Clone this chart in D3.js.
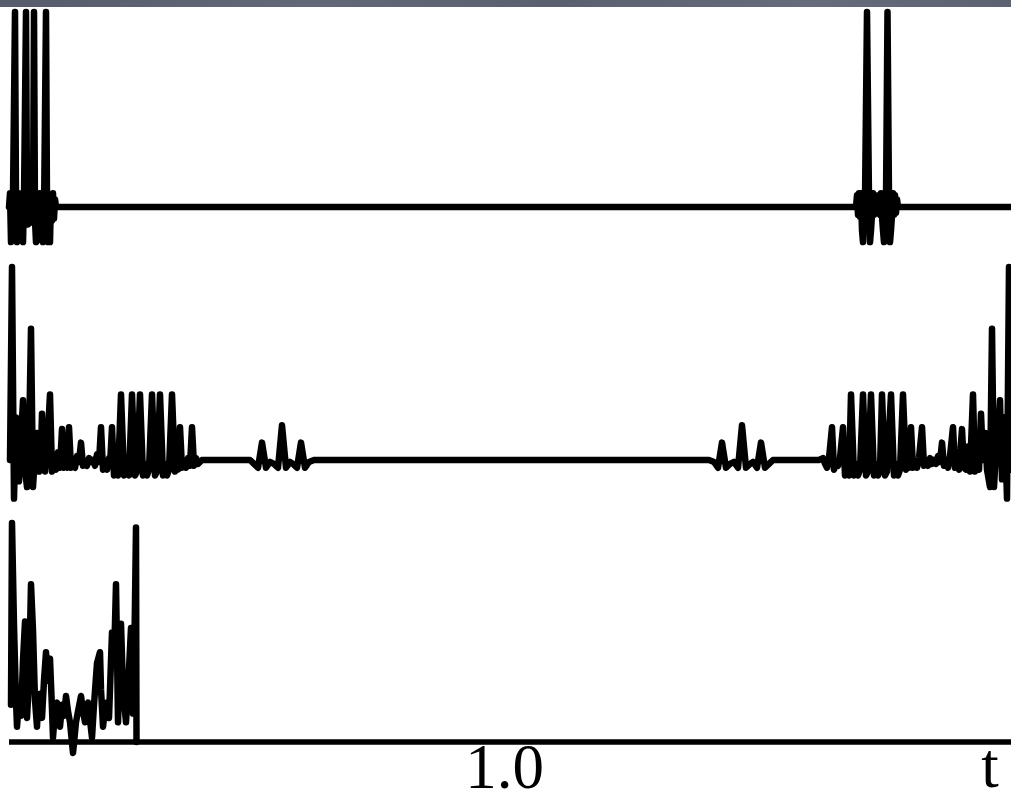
<!DOCTYPE html>
<html>
<head>
<meta charset="utf-8">
<script src="https://cdn.jsdelivr.net/npm/d3@7/dist/d3.min.js"></script>
<style>
  html, body { margin: 0; padding: 0; background: #fff; overflow: hidden; }
  svg { display: block; }
</style>
</head>
<body>
<svg id="chart" width="1011" height="790"></svg>
<script>
// Time samples [t, amplitude] for the three traces (amplitude normalised so the tallest spike = 1)
const topSignal = [
  [-0.002, 0], [0.000, 0.07], [0.002, -0.18], [0.004, -0.08], [0.006, 0.06], [0.010, 1.0],
  [0.012, 0.04], [0.014, -0.18], [0.016, -0.07], [0.018, 0.07], [0.020, -0.08], [0.022, 0.06],
  [0.024, -0.09], [0.026, -0.18], [0.028, 0.04], [0.032, 1.0], [0.034, 0.01], [0.036, -0.09],
  [0.038, -0.06], [0.040, 0.07], [0.042, -0.08], [0.044, 0.06], [0.046, -0.04], [0.048, 1.0],
  [0.050, -0.07], [0.052, -0.18], [0.054, -0.12], [0.056, 0.06], [0.058, -0.08], [0.060, 0.07],
  [0.062, -0.17], [0.064, 0.04], [0.066, -0.18], [0.068, -0.04], [0.072, 1.0], [0.074, 0.01],
  [0.076, -0.18], [0.078, -0.09], [0.080, -0.18], [0.082, 0.06], [0.084, -0.07], [0.086, 0.07],
  [0.088, -0.06], [0.090, 0.04], [0.092, 0],
  [1.692, 0], [1.694, 0.06], [1.696, -0.04], [1.698, 0.07], [1.700, -0.05], [1.702, 0.07],
  [1.704, -0.12], [1.706, -0.18], [1.708, -0.04], [1.710, 0.04], [1.714, 1.0], [1.718, 0.04],
  [1.720, -0.18], [1.722, -0.12], [1.724, -0.04], [1.726, 0.07], [1.728, -0.04], [1.730, 0.06],
  [1.732, -0.03], [1.734, 0.04], [1.736, 0],
  [1.738, 0.06], [1.740, -0.04], [1.742, 0.07], [1.744, -0.05], [1.746, -0.12], [1.748, -0.18],
  [1.750, -0.04], [1.752, 0.04], [1.755, 1.0], [1.758, 0.04], [1.760, -0.18], [1.762, -0.12],
  [1.764, -0.04], [1.766, 0.07], [1.768, -0.04], [1.770, 0.06], [1.772, -0.03], [1.774, 0.04],
  [1.776, 0],
  [2.002, 0]
];

const midSignal = [
  [0.000, 0], [0.004, 1.00], [0.008, -0.20], [0.012, 0.22], [0.014, 0.10], [0.016, 0.18],
  [0.018, -0.11], [0.022, 0.10], [0.026, 0.31], [0.030, -0.05], [0.034, -0.14], [0.038, 0.10],
  [0.042, 0.68], [0.046, -0.14], [0.050, 0.03], [0.054, 0.14], [0.058, -0.06], [0.062, 0.05],
  [0.064, 0.24], [0.068, -0.03], [0.070, -0.06], [0.074, 0.05], [0.080, 0.34], [0.084, -0.06],
  [0.088, -0.01], [0.092, -0.05], [0.096, 0.04], [0.100, -0.04], [0.104, 0.16], [0.108, -0.04],
  [0.112, -0.01], [0.114, -0.04], [0.118, 0.17], [0.122, -0.04], [0.126, -0.03], [0.130, -0.04],
  [0.134, 0.02], [0.138, -0.01], [0.142, 0.09], [0.146, -0.03], [0.150, -0.01], [0.154, -0.03],
  [0.158, 0.01], [0.162, -0.01], [0.166, 0], [0.170, -0.03], [0.174, 0.03], [0.178, -0.01],
  [0.182, 0.17], [0.186, -0.05], [0.190, -0.01], [0.194, -0.05], [0.198, 0.01], [0.200, -0.03],
  [0.204, 0.17], [0.208, -0.08], [0.212, -0.02], [0.216, -0.08], [0.222, 0.34], [0.228, -0.08],
  [0.232, -0.02], [0.238, -0.08], [0.244, 0.34], [0.250, -0.08], [0.254, -0.06], [0.260, 0.34],
  [0.266, -0.08], [0.270, -0.02], [0.274, -0.08], [0.278, -0.05], [0.284, 0.34], [0.290, -0.08],
  [0.294, -0.06], [0.300, 0.34], [0.306, -0.08], [0.310, -0.02], [0.314, -0.08], [0.318, -0.05],
  [0.324, 0.34], [0.330, -0.06], [0.334, -0.01], [0.336, -0.05], [0.340, 0.17], [0.344, -0.04],
  [0.348, -0.01], [0.352, -0.04], [0.356, 0.01], [0.360, -0.03], [0.364, 0.17], [0.368, -0.03],
  [0.372, 0.01], [0.376, -0.02], [0.384, 0],
  [0.480, 0], [0.488, -0.02], [0.496, -0.04], [0.504, 0.09], [0.512, -0.04], [0.520, -0.01],
  [0.528, -0.02], [0.536, -0.04], [0.544, 0.18], [0.552, -0.04], [0.560, -0.01], [0.566, -0.02],
  [0.574, -0.04], [0.582, 0.09], [0.590, -0.04], [0.598, -0.01], [0.608, 0],
  [1.398, 0], [1.408, -0.01], [1.416, -0.04], [1.424, 0.09], [1.432, -0.04], [1.440, -0.02],
  [1.448, -0.01], [1.456, -0.04], [1.464, 0.18], [1.472, -0.04], [1.480, -0.02], [1.486, -0.01],
  [1.494, -0.04], [1.502, 0.09], [1.510, -0.04], [1.518, -0.02], [1.526, 0],
  [1.618, 0], [1.626, 0.01], [1.630, -0.02], [1.634, -0.04], [1.638, 0.01], [1.644, 0.17],
  [1.648, -0.05], [1.652, -0.01], [1.656, -0.03], [1.660, 0.01], [1.666, 0.17], [1.670, -0.08],
  [1.674, -0.02], [1.678, -0.08], [1.682, 0.34], [1.688, -0.08], [1.692, -0.02], [1.696, -0.08],
  [1.700, -0.05], [1.706, 0.34], [1.712, -0.08], [1.716, -0.06], [1.722, 0.34], [1.728, -0.08],
  [1.732, -0.02], [1.736, -0.08], [1.740, -0.05], [1.744, 0.34], [1.750, -0.08], [1.754, -0.06],
  [1.762, 0.34], [1.768, -0.08], [1.772, -0.02], [1.776, -0.08], [1.780, -0.05], [1.786, 0.34],
  [1.792, -0.05], [1.796, -0.01], [1.798, -0.04], [1.802, 0.17], [1.806, -0.04], [1.810, -0.01],
  [1.814, -0.04], [1.818, 0.01], [1.824, 0.17], [1.828, -0.03], [1.832, 0], [1.836, -0.03],
  [1.840, 0.01], [1.844, -0.02], [1.848, 0], [1.852, -0.02], [1.856, 0.02], [1.860, -0.01],
  [1.864, 0.09], [1.868, -0.03], [1.872, -0.01], [1.876, -0.04], [1.880, 0.02], [1.886, 0.17],
  [1.890, -0.04], [1.894, -0.01], [1.898, -0.05], [1.904, 0.16], [1.908, -0.04], [1.912, -0.05],
  [1.916, 0.07], [1.920, -0.06], [1.926, 0.34], [1.930, -0.06], [1.934, -0.03], [1.938, -0.05],
  [1.942, 0.24], [1.946, 0], [1.950, 0.14], [1.954, -0.05], [1.960, -0.14], [1.964, 0.68],
  [1.968, -0.14], [1.972, 0.05], [1.976, 0.10], [1.980, 0.31], [1.984, -0.10], [1.988, 0.22],
  [1.990, 0.16], [1.994, -0.20], [1.998, 1.00], [2.002, -0.05]
];

const lowSignal = [
  [0.002, 0.17], [0.004, 1.00], [0.008, 0.53], [0.012, 0.19], [0.014, 0.07], [0.018, 0.19],
  [0.020, 0.24], [0.022, 0.12], [0.026, 0.37], [0.030, 0.55], [0.032, 0.24], [0.034, 0.11],
  [0.038, 0.28], [0.042, 0.72], [0.046, 0.51], [0.050, 0.19], [0.054, 0.07], [0.056, 0.17],
  [0.060, 0.22], [0.062, 0.12], [0.064, 0.11], [0.068, 0.28], [0.072, 0.41], [0.076, 0.28],
  [0.080, 0.38], [0.084, 0.15], [0.086, 0.02], [0.090, 0.14], [0.094, 0.18], [0.098, 0.10],
  [0.100, 0.07], [0.104, 0.17], [0.108, 0.12], [0.112, 0.21], [0.116, 0.14], [0.120, 0.09],
  [0.126, -0.05], [0.132, 0.09], [0.136, 0.14], [0.142, 0.21], [0.146, 0.14], [0.150, 0.09],
  [0.154, 0.17], [0.156, 0.18], [0.160, 0.10], [0.164, 0.02], [0.168, 0.17], [0.174, 0.36],
  [0.180, 0.41], [0.182, 0.24], [0.186, 0.07], [0.190, 0.15], [0.194, 0.18], [0.196, 0.11],
  [0.198, 0.11], [0.202, 0.37], [0.204, 0.50], [0.208, 0.37], [0.212, 0.72], [0.214, 0.42],
  [0.216, 0.09], [0.220, 0.37], [0.222, 0.54], [0.226, 0.24], [0.232, 0.09], [0.236, 0.24],
  [0.242, 0.52], [0.244, 0.28], [0.246, 0.13], [0.249, 0.47], [0.252, 0.98], [0.253, 0]
];

const tickValues = [1.0];
const tickLabels = ["1.0"];
const axisTitle = "t";

const width = 1011, height = 790;
const svg = d3.select("#chart");

// title bar strip along the top edge
const grad = svg.append("defs").append("linearGradient").attr("id", "strip");
[["0%", "#565c6b"], ["30%", "#626877"], ["55%", "#5a6070"], ["80%", "#666c7b"], ["100%", "#5c6272"]]
  .forEach(([o, c]) => grad.append("stop").attr("offset", o).attr("stop-color", c));
svg.append("rect").attr("x", 0).attr("y", 0).attr("width", width).attr("height", 7)
  .attr("fill", "url(#strip)");

const x = d3.scaleLinear().domain([0, 2]).range([10, 1010]);

const panels = [
  { data: topSignal, y: d3.scaleLinear().domain([0, 1]).range([207, 12]) },
  { data: midSignal, y: d3.scaleLinear().domain([0, 1]).range([460, 267]) },
  { data: lowSignal, y: d3.scaleLinear().domain([0, 1]).range([742, 523]) }
];

const yLow = panels[2].y;
const serif = "'Liberation Serif', 'DejaVu Serif', serif";

// time axis under the lowest trace
const axis = d3.axisBottom(x)
  .tickValues(tickValues)
  .tickFormat((d, i) => tickLabels[i])
  .tickSize(0)
  .tickSizeOuter(0)
  .tickPadding(1);

const gAxis = svg.append("g").attr("transform", `translate(0,${yLow(0)})`).call(axis);
gAxis.select(".domain").remove();
gAxis.selectAll(".tick text")
  .attr("font-family", serif)
  .attr("font-size", 63)
  .attr("fill", "#000")
  .attr("dx", "-6");

svg.append("line")
  .attr("x1", x(0) - 1).attr("x2", width)
  .attr("y1", yLow(0)).attr("y2", yLow(0))
  .attr("stroke", "#000").attr("stroke-width", 5.5);

svg.append("text")
  .attr("x", x(1.96)).attr("y", yLow(0) + 45)
  .attr("text-anchor", "middle")
  .attr("font-family", serif)
  .attr("font-size", 63)
  .attr("fill", "#000")
  .text(axisTitle);

// signal traces
panels.forEach(p => {
  const line = d3.line().x(d => x(d[0])).y(d => p.y(d[1]));
  svg.append("path")
    .datum(p.data)
    .attr("d", line)
    .attr("fill", "none")
    .attr("stroke", "#000")
    .attr("stroke-width", 6.5)
    .attr("stroke-linejoin", "round")
    .attr("stroke-linecap", "round");
});
</script>
</body>
</html>
